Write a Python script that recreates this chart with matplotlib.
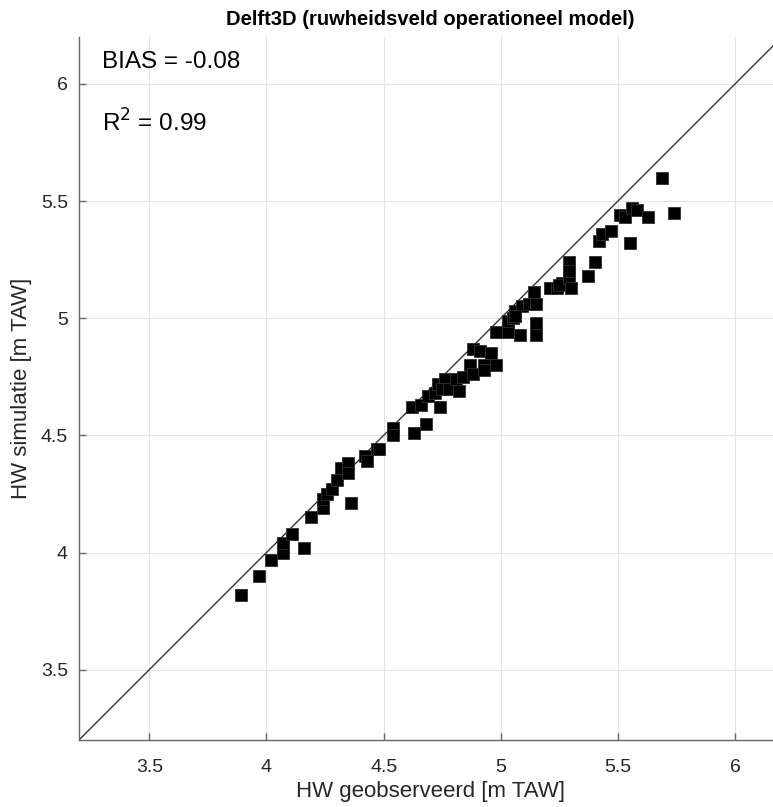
import numpy as np
import matplotlib
matplotlib.use('Agg')
import matplotlib.pyplot as plt

plt.rcParams['font.family'] = ['Liberation Sans', 'DejaVu Sans']

# observed vs simulated high water levels [m TAW]
hw_obs = [3.89, 3.97, 4.02, 4.07, 4.07, 4.11, 4.16, 4.19, 4.24, 4.24,
          4.26, 4.28, 4.36, 4.30, 4.32, 4.35, 4.35, 4.42, 4.43, 4.47,
          4.48, 4.54, 4.54, 4.63, 4.68, 4.62, 4.66, 4.69, 4.72, 4.74,
          4.73, 4.76, 4.75, 4.78, 4.81, 4.82, 4.84, 4.87, 4.88, 4.88,
          4.91, 4.93, 4.93, 4.96, 4.98, 4.98, 5.03, 5.08, 5.15, 5.15,
          5.03, 5.05, 5.06, 5.09, 5.06, 5.12, 5.15, 5.14, 5.21, 5.24,
          5.26, 5.25, 5.29, 5.29, 5.30, 5.29, 5.37, 5.40, 5.42, 5.43,
          5.47, 5.55, 5.51, 5.53, 5.56, 5.58, 5.63, 5.69, 5.74]
hw_sim = [3.82, 3.90, 3.97, 4.00, 4.04, 4.08, 4.02, 4.15, 4.19, 4.23,
          4.25, 4.27, 4.21, 4.31, 4.36, 4.38, 4.34, 4.41, 4.39, 4.44,
          4.44, 4.53, 4.50, 4.51, 4.55, 4.62, 4.63, 4.67, 4.68, 4.62,
          4.72, 4.74, 4.70, 4.70, 4.74, 4.69, 4.75, 4.80, 4.76, 4.87,
          4.86, 4.80, 4.78, 4.85, 4.80, 4.94, 4.94, 4.93, 4.93, 4.98,
          4.99, 5.00, 5.03, 5.05, 5.01, 5.06, 5.06, 5.11, 5.13, 5.13,
          5.15, 5.14, 5.17, 5.24, 5.13, 5.20, 5.18, 5.24, 5.33, 5.36,
          5.37, 5.32, 5.44, 5.43, 5.47, 5.46, 5.43, 5.60, 5.45]

bias = -0.08
r2 = 0.99
lims = [3.2, 6.2]
ticks = [3.5, 4, 4.5, 5, 5.5, 6]
tick_labels = ['3.5', '4', '4.5', '5', '5.5', '6']

fig = plt.figure(figsize=(7.73, 8.07), dpi=100)
ax = fig.add_axes([79/773, 67/807, 703/773, 703/807])

# 1:1 line
ax.plot(lims, lims, color='#222222', lw=0.9, zorder=2)
ax.plot(hw_obs, hw_sim, 's', color='black', markersize=8.3,
        markeredgecolor='#303030', markeredgewidth=0.6, zorder=3)

ax.set_xlim(lims)
ax.set_ylim(lims)
ax.set_xticks(ticks)
ax.set_yticks(ticks)
ax.set_xticklabels(tick_labels)
ax.set_yticklabels(tick_labels)
ax.grid(True, color='#e3e3e3', lw=0.8)
ax.set_axisbelow(True)

for s in ['top', 'right']:
    ax.spines[s].set_visible(False)
for s in ['left', 'bottom']:
    ax.spines[s].set_color('#666666')
    ax.spines[s].set_linewidth(1.0)
ax.tick_params(direction='in', length=5, width=1.0, color='#666666',
               labelcolor='#262626', labelsize=14)
ax.tick_params(axis='x', pad=14)
ax.tick_params(axis='y', pad=8)

ax.set_xlabel('HW geobserveerd [m TAW]', fontsize=16, color='#262626', labelpad=3)
ax.set_ylabel('HW simulatie [m TAW]', fontsize=16, color='#262626', labelpad=6)
ax.set_title('Delft3D (ruwheidsveld operationeel model)', fontsize=14.5,
             fontweight='bold', color='black', pad=9)

ax.text(0.033, 0.964, 'BIAS = %.2f' % bias, transform=ax.transAxes,
        fontsize=17.5, va='center', ha='left')
ax.text(0.033, 0.878, 'R$^2$ = %.2f' % r2, transform=ax.transAxes,
        fontsize=17.5, va='center', ha='left')

fig.savefig('out.png', dpi=100)
